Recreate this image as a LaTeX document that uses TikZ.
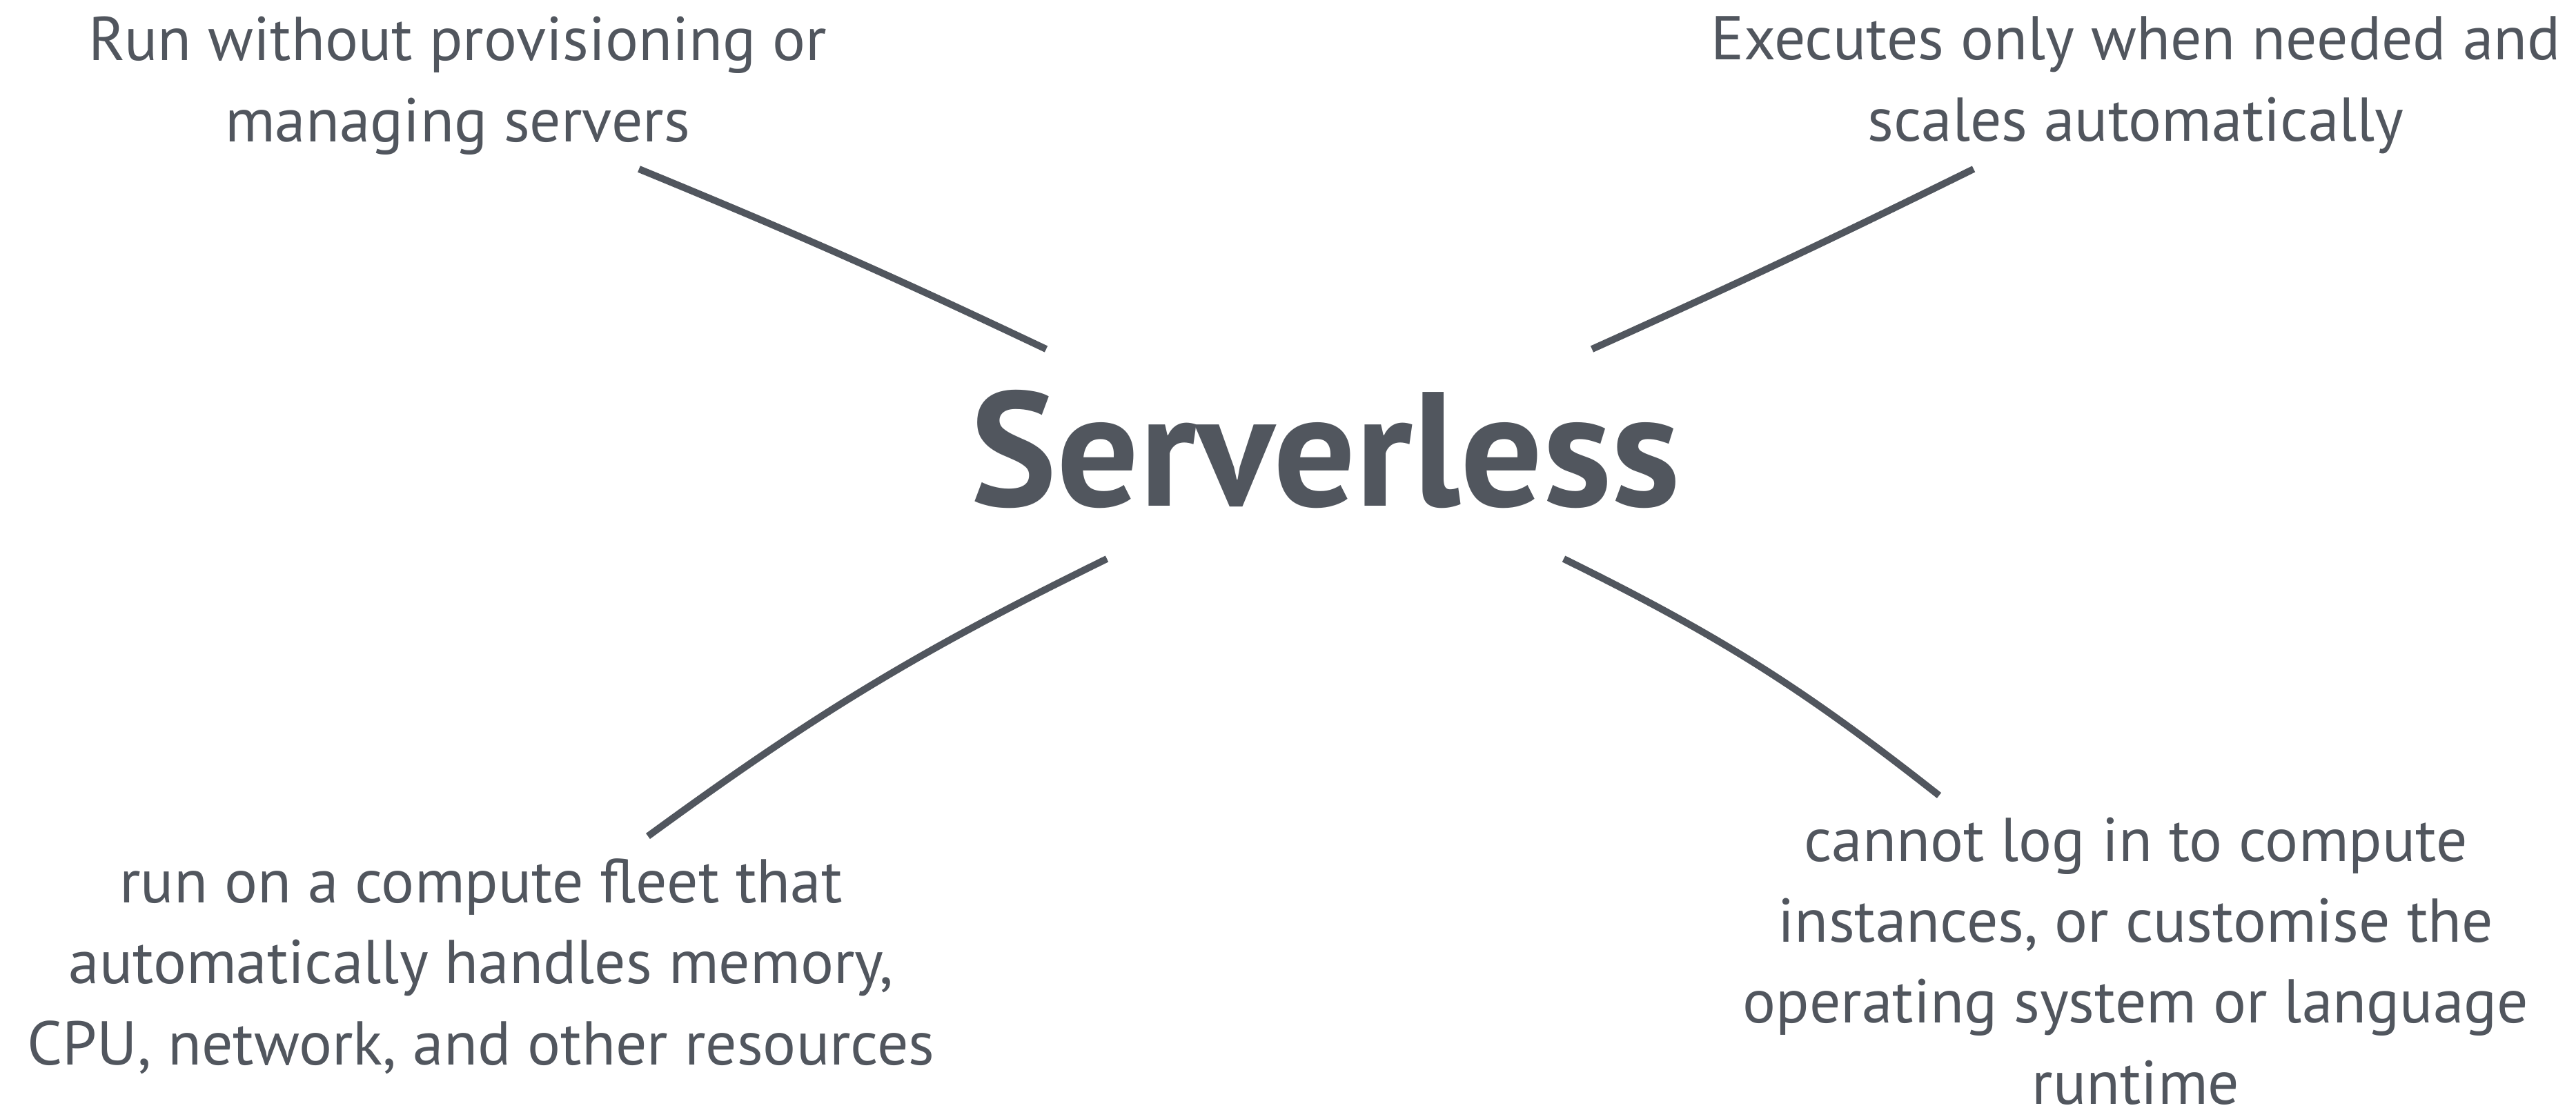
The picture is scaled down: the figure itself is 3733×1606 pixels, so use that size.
\documentclass[tikz,border=0pt]{standalone}
\usepackage{fontspec}
\setmainfont{PT Sans}
\definecolor{ink}{RGB}{81,86,94}
\tikzset{
  hub/.style={inner sep=0pt, outer sep=0pt, text=ink, anchor=base,
    font=\fontsize{67pt}{80pt}\selectfont\bfseries},
  % multi-line notes: the base anchor sits on the last line's baseline
  note/.style={inner sep=0pt, outer sep=0pt, text=ink, anchor=base, align=center,
    font=\fontsize{25.5pt}{33.3pt}\selectfont},
  link/.style={draw=ink, line width=2.85pt, line cap=butt}
}
\begin{document}
\begin{tikzpicture}[x=0.01cm, y=-0.01cm]
\useasboundingbox (0,0) rectangle (3733,1606);

% central topic
\node[hub] (core) at (1921,733) {Serverless};

% surrounding notes
\node[note] (tl) at (663,205) {Run without provisioning or\\managing servers};
\node[note] (tr) at (3095,204) {Executes only when needed and\\scales automatically};
\node[note] (bl) at (697,1543) {run on a compute fleet that\\automatically handles memory,\\CPU, network, and other resources};
\node[note] (br) at (3095,1600) {cannot log in to compute\\instances, or customise the\\operating system or language\\runtime};

% connector ends
\coordinate (tlIn)  at (1516,506); \coordinate (tlOut) at (926,245);
\coordinate (trIn)  at (2307,506); \coordinate (trOut) at (2860,245);
\coordinate (blIn)  at (1604,810); \coordinate (blOut) at (939,1212);
\coordinate (brIn)  at (2266,810); \coordinate (brOut) at (2810,1153);

% connectors
\draw[link] (tlIn) to[bend right=1.5] (tlOut);
\draw[link] (trIn) to[bend right=1] (trOut);
\draw[link] (blIn) to[bend right=5] (blOut);
\draw[link] (brIn) to[bend left=6] (brOut);
\end{tikzpicture}
\end{document}
